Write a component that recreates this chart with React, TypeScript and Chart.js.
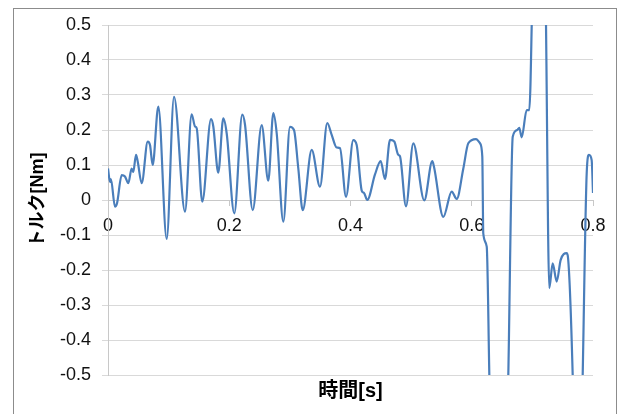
import { useEffect, useRef } from "react";
import { Chart, registerables } from "chart.js";

Chart.register(...registerables);

// time [s]
const timeS = [
  0.0, 0.0033, 0.0048, 0.0115, 0.0148, 0.0226, 0.028, 0.0335, 0.039, 0.0417,
  0.0462, 0.049, 0.0556, 0.0655, 0.0693, 0.0737, 0.083, 0.0968, 0.1089, 0.127,
  0.138, 0.1435, 0.1463, 0.1555, 0.1699, 0.1737, 0.1819, 0.1902, 0.1958, 0.2083,
  0.2215, 0.226, 0.2387, 0.2535, 0.2644, 0.2727, 0.2783, 0.2892, 0.3002, 0.3068,
  0.3139, 0.3212, 0.336, 0.3497, 0.3617, 0.369, 0.3772, 0.3827, 0.3926, 0.4046,
  0.4102, 0.4185, 0.4223, 0.4277, 0.4404, 0.4498, 0.4569, 0.4652, 0.4722, 0.4788,
  0.4816, 0.4915, 0.5036, 0.5217, 0.5349, 0.5377, 0.5531, 0.5669, 0.5752, 0.5861,
  0.5943, 0.607, 0.6136, 0.6174, 0.619, 0.6247, 0.629, 0.6318, 0.645, 0.6573,
  0.6603, 0.6676, 0.6751, 0.6784, 0.6824, 0.6906, 0.6949, 0.6989, 0.701, 0.711,
  0.7208, 0.7225, 0.7279, 0.7335, 0.7401, 0.7467, 0.7566, 0.7588, 0.7665, 0.7695,
  0.7753, 0.7802, 0.783, 0.7896, 0.7934, 0.7978, 0.8,
];

// torque [Nm]
const torqueNm = [
  0.09, 0.052, 0.06, -0.019, -0.01, 0.071, 0.067, 0.048, 0.09, 0.08,
  0.129, 0.11, 0.048, 0.167, 0.157, 0.1, 0.267, -0.111, 0.295, -0.033,
  0.245, 0.21, 0.205, -0.005, 0.231, 0.21, 0.078, 0.233, 0.19, -0.038,
  0.244, 0.215, -0.029, 0.214, 0.055, 0.248, 0.19, -0.062, 0.209, 0.2,
  0.09, -0.029, 0.143, 0.038, 0.22, 0.186, 0.15, 0.148, 0.009, 0.171,
  0.157, 0.027, 0.02, 0.0, 0.073, 0.111, 0.06, 0.172, 0.167, 0.129,
  0.125, -0.018, 0.162, -0.001, 0.111, 0.095, -0.048, 0.024, 0.003, 0.09,
  0.162, 0.174, 0.162, 0.124, -0.095, -0.133, -0.5, -0.75, -1.0, -0.75,
  -0.5, 0.181, 0.2, 0.206, 0.179, 0.257, 0.257, 0.5, 0.75, 0.9,
  0.75, 0.5, -0.252, -0.181, -0.233, -0.171, -0.152, -0.165, -0.5, -0.75,
  -0.9, -0.75, -0.5, 0.076, 0.129, 0.114, 0.02,
];

const xTickValues = [0, 0.2, 0.4, 0.6, 0.8];
const yMin = -0.5;
const yMax = 0.5;
const yTitle = "トルク[Nm]";
const xTitle = "時間[s]";

const FONT = "'Liberation Sans', Arial, 'Noto Sans CJK JP', sans-serif";

export default function App() {
  const canvasRef = useRef<HTMLCanvasElement | null>(null);

  useEffect(() => {
    if (!canvasRef.current) return;
    const points = timeS.map((t, i) => ({ x: t, y: torqueNm[i] }));
    const chart = new Chart(canvasRef.current, {
      type: "line",
      data: {
        datasets: [
          {
            data: points,
            borderColor: "#4a7ebb",
            borderWidth: 2.2,
            pointRadius: 0,
            fill: false,
            cubicInterpolationMode: "monotone",
          },
        ],
      },
      options: {
        animation: false,
        responsive: false,
        layout: { padding: { top: 25, right: 28, bottom: 0, left: 0 } },
        plugins: {
          legend: { display: false },
          tooltip: { enabled: false },
          title: {
            display: true,
            text: xTitle,
            position: "bottom",
            fullSize: false,
            color: "#000",
            font: { family: FONT, size: 20, weight: "bold" },
            padding: { top: 4, bottom: 11 },
          },
        },
        scales: {
          x: {
            type: "linear",
            min: 0,
            max: 0.8,
            position: { y: 0 },
            afterBuildTicks: (scale: any) => {
              scale.ticks = xTickValues.map((v) => ({ value: v }));
            },
            grid: {
              display: true,
              drawOnChartArea: false,
              drawTicks: true,
              tickLength: 5,
              color: "#c8c8c8",
            },
            border: { display: true, color: "#c8c8c8" },
            ticks: {
              color: "#111",
              font: { family: FONT, size: 18 },
              padding: 10,
              maxRotation: 0,
              callback: (v: any) => String(Number(Number(v).toFixed(1))),
            },
          },
          y: {
            type: "linear",
            min: yMin,
            max: yMax,
            position: "left",
            afterFit: (scale: any) => {
              scale.width = 108;
            },
            grid: {
              color: "#d9d9d9",
              tickLength: 6,
              drawTicks: true,
            },
            border: { display: true, color: "#c8c8c8" },
            ticks: {
              stepSize: 0.1,
              color: "#111",
              font: { family: FONT, size: 18 },
              padding: 11,
              callback: (v: any) => String(Number(Number(v).toFixed(1))),
            },
            title: {
              display: true,
              text: yTitle,
              color: "#000",
              font: { family: FONT, size: 18, weight: "bold" },
              padding: { top: 27, bottom: 0 },
            },
          },
        },
      },
    });
    return () => chart.destroy();
  }, []);

  return (
    <div
      style={{
        position: "fixed",
        left: 0,
        top: 0,
        width: 621,
        height: 414,
        overflow: "hidden",
        background: "#fff",
      }}
    >
      <div
        style={{
          position: "absolute",
          left: 13,
          top: 8,
          width: 604,
          height: 430,
          border: "1px solid #8c8c8c",
          borderBottom: "none",
          boxSizing: "border-box",
        }}
      />
      <canvas
        ref={canvasRef}
        width={621}
        height={414}
        style={{ position: "absolute", left: 0, top: 0, display: "block" }}
      />
    </div>
  );
}
